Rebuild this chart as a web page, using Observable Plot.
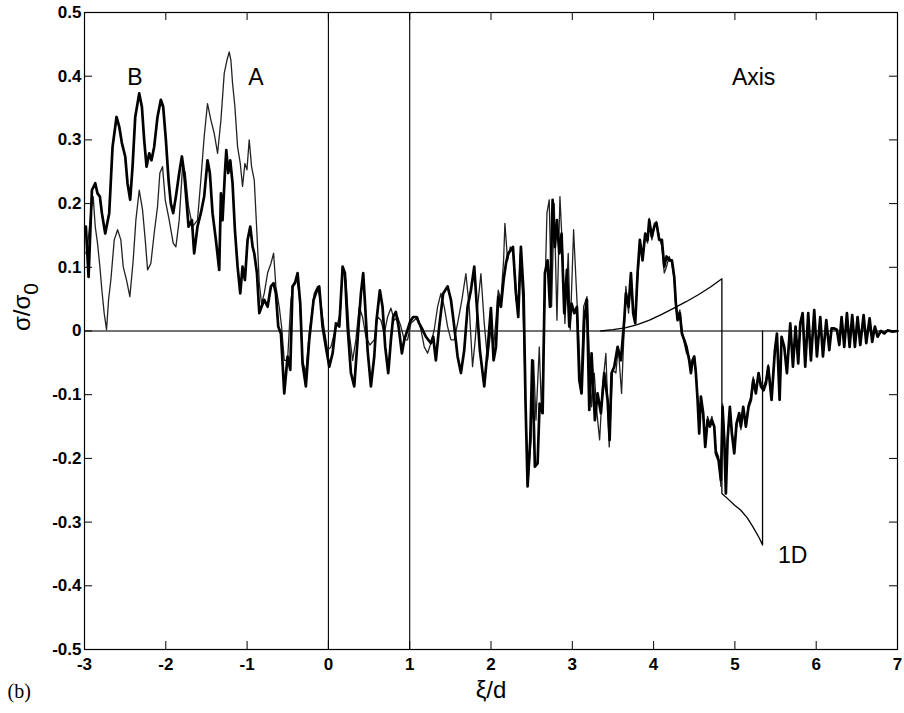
<!DOCTYPE html>
<html><head><meta charset="utf-8">
<script src="https://cdn.jsdelivr.net/npm/d3@7"></script>
<script src="https://cdn.jsdelivr.net/npm/@observablehq/plot@0.6"></script>
<style>body{margin:0;background:#fff}#chart{width:904px;height:713px}</style>
</head><body><div id="chart"></div>
<script>
// Thick series (B)
const thickX = [-2.983,-2.950,-2.909,-2.868,-2.840,-2.811,-2.786,-2.745,-2.696,-2.655,-2.606,-2.573,-2.540,-2.499,-2.471,-2.438,-2.409,-2.376,-2.327,-2.294,-2.266,-2.237,-2.204,-2.176,-2.143,-2.102,-2.061,-2.032,-1.999,-1.966,-1.938,-1.909,-1.876,-1.835,-1.802,-1.774,-1.753,-1.720,-1.679,-1.651,-1.610,-1.569,-1.528,-1.487,-1.458,-1.425,-1.384,-1.343,
-1.322,-1.302,-1.273,-1.256,-1.232,-1.207,-1.179,-1.150,-1.117,-1.084,-1.056,-1.027,-0.994,-0.961,-0.932,-0.912,-0.879,-0.850,-0.822,-0.789,-0.748,-0.707,-0.674,-0.646,-0.617,-0.584,-0.543,-0.502,-0.469,-0.441,-0.412,-0.379,-0.346,-0.318,-0.277,-0.236,-0.182,-0.141,-0.113,-0.072,-0.031,0.011,0.052,0.093,0.134,0.175,0.203,0.236,0.277,0.318,
0.400,0.428,0.453,0.482,0.523,0.564,0.592,0.633,0.666,0.699,0.736,0.769,0.797,0.830,0.863,0.904,0.933,0.974,1.006,1.043,1.084,1.117,1.158,1.199,1.261,1.289,1.322,1.363,1.412,1.466,1.507,1.548,1.589,1.630,1.671,1.712,1.753,1.794,1.826,1.863,1.917,1.958,1.999,
2.032,2.061,2.089,2.122,2.155,2.184,2.212,2.245,2.270,2.307,2.335,2.368,2.401,2.425,2.450,2.483,2.507,2.540,2.573,2.598,2.635,2.663,2.696,2.725,2.758,2.786,2.811,2.840,2.868,2.901,2.934,2.963,2.991,3.024,3.057,3.086,3.114,3.147,3.180,3.209,3.237,3.278,3.311,3.352,3.393,3.434,3.459,3.483,3.516,3.557,3.598,3.639,
3.659,3.692,3.721,3.749,3.774,3.803,3.831,3.864,3.897,3.926,3.946,3.979,4.008,4.036,4.069,4.102,4.131,4.159,4.192,4.225,4.254,4.274,4.295,4.323,4.348,4.377,4.405,4.438,4.459,4.479,4.500,4.520,4.541,4.561,4.582,4.610,4.635,4.664,4.692,4.717,4.746,4.766,4.799,4.828,4.848,4.869,4.889,4.910,4.938,4.963,4.992,5.020,5.053,5.074,5.102,5.135,5.168,5.197,5.225,5.258,5.291,5.320,
5.353,5.382,5.410,5.451,5.492,5.517,5.550,5.574,5.607,5.640,5.681,5.714,5.746,5.779,5.804,5.833,5.865,5.902,5.935,5.976,6.009,6.050,6.083,6.124,6.161,6.189,6.222,6.255,6.284,6.312,6.345,6.378,6.411,6.443,6.476,6.509,6.542,6.583,6.616,6.657,6.689,6.722,6.755,6.796,6.837,6.878,6.940,7.000];
const thickY = [0.164,0.085,0.221,0.232,0.216,0.211,0.185,0.153,0.185,0.289,0.336,0.321,0.295,0.274,0.232,0.206,0.258,0.336,0.373,0.352,0.300,0.258,0.279,0.268,0.289,0.336,0.363,0.352,0.300,0.237,0.200,0.185,0.211,0.248,0.274,0.248,0.216,0.164,0.174,0.122,0.164,0.185,0.211,0.268,0.248,0.185,0.143,0.096,
0.216,0.174,0.248,0.284,0.248,0.268,0.232,0.159,0.101,0.059,0.101,0.080,0.143,0.164,0.132,0.122,0.091,0.028,0.038,0.049,0.038,0.070,0.075,0.059,0.007,-0.004,-0.098,-0.040,-0.061,0.070,0.075,0.091,0.043,-0.051,-0.087,-0.014,0.049,0.064,0.070,0.007,-0.025,-0.056,-0.035,0.012,0.007,0.101,0.091,0.007,-0.066,-0.087,
0.059,0.091,0.038,-0.030,-0.087,-0.040,0.017,0.064,0.038,-0.025,-0.066,-0.014,0.022,0.030,0.007,-0.035,-0.014,0.002,0.015,0.022,0.022,0.012,0.002,-0.009,-0.019,-0.009,-0.046,0.007,0.059,0.070,0.049,0.007,-0.040,-0.066,-0.030,0.038,0.064,0.101,0.038,-0.030,-0.087,-0.030,0.036,
-0.046,-0.025,0.054,0.038,0.080,0.106,0.122,0.127,0.132,0.059,0.022,0.132,0.059,-0.114,-0.244,-0.171,-0.046,-0.213,-0.208,-0.114,-0.129,0.091,0.111,0.038,0.206,0.132,0.174,0.122,0.153,0.028,0.096,0.007,0.043,0.028,0.038,-0.077,-0.098,0.017,0.049,-0.124,-0.035,-0.140,-0.098,-0.129,-0.066,-0.108,-0.171,-0.066,-0.056,-0.025,-0.046,0.017,
0.059,0.038,0.091,0.028,0.012,0.091,0.143,0.111,0.153,0.143,0.174,0.148,0.164,0.169,0.143,0.143,0.101,0.117,0.111,0.111,0.085,0.043,0.017,0.028,-0.004,-0.014,-0.025,-0.046,-0.066,-0.046,-0.040,-0.066,-0.108,-0.161,-0.103,-0.129,-0.182,-0.140,-0.150,-0.140,-0.150,-0.192,-0.203,-0.234,-0.119,-0.171,-0.255,-0.171,-0.119,-0.161,-0.192,-0.145,-0.129,-0.150,-0.119,-0.150,-0.119,-0.108,-0.077,-0.098,-0.066,-0.087,
-0.093,-0.082,-0.056,-0.108,-0.030,-0.004,-0.108,-0.009,-0.025,-0.066,0.012,-0.056,0.007,-0.051,0.012,0.028,-0.056,0.028,-0.046,0.033,-0.040,0.022,-0.040,0.017,-0.030,0.004,0.004,0.002,-0.022,0.022,-0.025,0.028,-0.025,0.025,-0.025,0.022,-0.022,0.025,-0.019,0.020,-0.017,0.007,-0.009,0.000,-0.004,0.001,-0.001,0.000];

// Thin series (A)
const thinX = [-2.983,-2.963,-2.922,-2.893,-2.868,-2.840,-2.811,-2.786,-2.758,-2.729,-2.704,-2.676,-2.634,-2.593,-2.553,-2.524,-2.483,-2.442,-2.401,-2.368,-2.327,-2.286,-2.253,-2.224,-2.184,-2.143,-2.102,-2.073,-2.040,-2.007,-1.958,-1.909,-1.876,-1.835,-1.794,-1.761,-1.720,-1.671,-1.610,-1.569,-1.528,-1.487,-1.445,-1.404,-1.363,-1.322,
-1.281,-1.248,-1.220,-1.199,-1.179,-1.150,-1.117,-1.084,-1.056,-1.027,-1.002,-0.974,-0.945,-0.912,-0.879,-0.850,-0.822,-0.789,-0.748,-0.707,-0.674,-0.646,-0.605,-0.576,-0.543,-0.502,-0.461,-0.428,-0.387,-0.359,-0.318,-0.277,-0.236,-0.174,-0.133,-0.092,-0.051,-0.010,0.031,0.072,0.113,0.146,0.175,0.216,0.257,0.298,0.338,
0.379,0.420,0.461,0.510,0.564,0.605,0.646,0.687,0.728,0.769,0.810,0.851,0.892,0.933,0.974,1.015,1.056,1.097,1.138,1.179,1.220,1.261,1.302,1.343,1.384,1.425,1.466,1.507,1.548,1.589,1.642,1.691,1.732,1.773,1.806,1.835,1.876,1.917,1.958,1.999,
2.032,2.061,2.089,2.122,2.155,2.171,2.204,2.237,2.270,2.307,2.335,2.360,2.389,2.409,2.430,2.458,2.491,2.524,2.553,2.594,2.622,2.655,2.688,2.716,2.745,2.778,2.811,2.848,2.881,2.909,2.950,2.975,3.016,3.045,3.073,3.106,3.139,3.180,3.209,3.237,3.270,3.303,3.336,3.372,3.413,3.454,3.495,3.536,3.565,3.606,3.639,
3.659,3.692,3.721,3.749,3.774,3.803,3.831,3.864,3.897,3.926,3.946,3.979,4.008,4.036,4.069,4.102,4.131,4.159,4.192,4.225,4.254,4.274,4.295,4.323,4.348,4.377,4.405,4.438,4.459,4.479,4.500,4.520,4.541,4.561,4.582,4.610,4.635,4.664,4.692,4.717,4.746,4.766,4.799,4.828,4.848,4.869,4.889,4.910,4.938,4.963,4.992,5.020,5.053,5.074,5.102,5.135,5.168,5.197,5.225,5.258,5.291,5.320,
5.353,5.382,5.410,5.451,5.492,5.517,5.550,5.574,5.607,5.640,5.681,5.714,5.746,5.779,5.804,5.833,5.865,5.902,5.935,5.976,6.009,6.050,6.083,6.124,6.161,6.189,6.222,6.255,6.284,6.312,6.345,6.378,6.411,6.443,6.476,6.509,6.542,6.583,6.616,6.657,6.689,6.722,6.755,6.796,6.837,6.878,6.940,7.000];
const thinY = [0.122,0.132,0.185,0.211,0.164,0.138,0.101,0.064,0.028,0.002,0.049,0.080,0.143,0.159,0.143,0.101,0.080,0.054,0.111,0.174,0.221,0.190,0.143,0.096,0.106,0.153,0.195,0.248,0.258,0.206,0.174,0.138,0.132,0.174,0.258,0.248,0.195,0.164,0.174,0.237,0.305,0.357,0.331,0.310,0.279,0.331,
0.405,0.425,0.438,0.425,0.389,0.352,0.289,0.263,0.227,0.263,0.253,0.300,0.258,0.237,0.153,0.075,0.043,0.059,0.091,0.106,0.122,0.070,0.038,0.007,-0.046,-0.046,0.049,0.075,0.080,0.059,-0.046,-0.066,-0.004,0.059,0.070,0.043,0.002,-0.030,-0.025,-0.004,0.012,0.028,0.101,0.080,-0.004,-0.046,-0.014,
0.038,0.022,-0.009,-0.022,-0.014,0.022,0.017,-0.004,0.022,0.036,0.017,0.022,0.007,-0.014,-0.014,0.012,0.017,0.022,0.002,-0.025,-0.035,-0.019,0.002,0.038,0.059,0.038,0.007,-0.014,-0.014,0.012,0.049,0.090,0.038,-0.056,-0.014,0.038,0.090,0.012,-0.046,0.002,
-0.025,0.017,0.064,0.049,0.111,0.169,0.111,0.132,0.127,0.049,0.038,0.122,0.054,-0.035,-0.140,-0.234,-0.171,-0.046,-0.140,-0.025,-0.129,0.017,0.185,0.206,0.038,0.200,0.017,0.211,0.122,0.012,0.122,0.002,0.159,0.080,0.007,-0.098,0.038,0.054,-0.035,-0.119,-0.066,-0.129,-0.171,-0.087,-0.035,-0.182,-0.061,-0.066,-0.025,-0.098,0.007,
0.070,0.028,0.085,0.038,0.017,0.080,0.132,0.117,0.148,0.138,0.177,0.143,0.169,0.172,0.148,0.132,0.091,0.101,0.117,0.106,0.080,0.038,0.022,0.033,0.002,-0.019,-0.035,-0.040,-0.061,-0.051,-0.040,-0.061,-0.103,-0.155,-0.108,-0.134,-0.171,-0.134,-0.145,-0.134,-0.155,-0.187,-0.197,-0.244,-0.114,-0.161,-0.244,-0.166,-0.124,-0.155,-0.187,-0.150,-0.134,-0.155,-0.124,-0.145,-0.114,-0.103,-0.072,-0.093,-0.066,-0.082,
-0.087,-0.077,-0.053,-0.103,-0.030,-0.006,-0.103,-0.011,-0.025,-0.061,0.009,-0.053,0.004,-0.048,0.009,0.025,-0.053,0.025,-0.043,0.030,-0.038,0.020,-0.038,0.015,-0.027,0.003,0.003,0.001,-0.020,0.020,-0.022,0.025,-0.022,0.022,-0.022,0.020,-0.020,0.022,-0.018,0.018,-0.015,0.006,-0.008,0.000,-0.003,0.001,0.000,0.000];

// 1D prediction
const oneDX = [3.35,3.50,3.65,3.80,3.95,4.10,4.25,4.40,4.55,4.70,4.84,4.84,4.90,5.00,5.07,5.15,5.22,5.30,5.34,5.34];
const oneDY = [0,0.002,0.005,0.010,0.017,0.026,0.036,0.046,0.057,0.069,0.082,-0.255,-0.262,-0.274,-0.281,-0.293,-0.307,-0.325,-0.336,0];

// reference lines and ticks
const vLines = [0, 1];
const hLines = [0];
const xTicks = [-3,-2,-1,0,1,2,3,4,5,6,7];
const yTicks = [-0.5,-0.4,-0.3,-0.2,-0.1,0,0.1,0.2,0.3,0.4,0.5];

// annotations
const noteText = ["B", "A", "Axis", "1D"];
const noteX = [-2.38, -0.89, 5.23, 5.71];
const noteY = [0.398, 0.398, 0.398, -0.353];

const thick = thickX.map((x, i) => ({x, y: thickY[i]}));
const thin = thinX.map((x, i) => ({x, y: thinY[i]}));
const oneD = oneDX.map((x, i) => ({x, y: oneDY[i]}));
const notes = noteText.map((t, i) => ({t, x: noteX[i], y: noteY[i]}));

const fmtX = d => (d < 0 ? "-" : "") + Math.abs(d);
const fmtY = d => d === 0 ? "0" : (d < 0 ? "-" : "") + Math.abs(d).toFixed(1);

const W = 904, H = 713, ML = 84, MR = 7, MT = 12, MB = 64;
const innerW = W - ML - MR, innerH = H - MT - MB, TL = 8;

const chart = Plot.plot({
  width: W, height: H,
  marginLeft: ML, marginRight: MR, marginTop: MT, marginBottom: MB,
  x: {domain: [-3, 7]},
  y: {domain: [-0.5, 0.5]},
  style: {fontFamily: "'Liberation Sans', Arial, sans-serif", fontSize: "17px", background: "#fff", overflow: "visible"},
  marks: [
    Plot.ruleX(vLines, {stroke: "#000", strokeWidth: 1.1}),
    Plot.ruleY(hLines, {stroke: "#444", strokeWidth: 1.3}),
    Plot.line(oneD, {x: "x", y: "y", stroke: "#000", strokeWidth: 1.3}),
    Plot.line(thin, {x: "x", y: "y", stroke: "#222", strokeWidth: 1.3, strokeLinejoin: "round"}),
    Plot.line(thick, {x: "x", y: "y", stroke: "#000", strokeWidth: 2.7, strokeLinejoin: "round"}),
    Plot.frame({stroke: "#000", strokeWidth: 1.2}),
    Plot.ruleX(xTicks, {insetTop: innerH - TL, stroke: "#000"}),
    Plot.ruleX(xTicks, {insetBottom: innerH - TL, stroke: "#000"}),
    Plot.ruleY(yTicks, {insetRight: innerW - TL, stroke: "#000"}),
    Plot.ruleY(yTicks, {insetLeft: innerW - TL, stroke: "#000"}),
    Plot.axisX(xTicks, {tickSize: 0, tickPadding: 8, tickFormat: fmtX, label: null, fontWeight: "bold"}),
    Plot.axisY(yTicks, {tickSize: 0, tickPadding: 3, tickFormat: fmtY, label: null, fontWeight: "bold"}),
    Plot.text(notes, {x: "x", y: "y", text: "t", fontSize: 23, fill: "#000", textAnchor: "middle", lineAnchor: "middle"}),
    Plot.text(["ξ/d"], {text: d => d, frameAnchor: "bottom", dy: 41, fontSize: 24, lineAnchor: "middle"}),
    Plot.text(["σ/σ0"], {text: d => d, frameAnchor: "left", dx: -62, rotate: -90, fontSize: 24, lineAnchor: "middle", className: "ylab"}),
    Plot.text(["(b)"], {text: d => d, frameAnchor: "bottom-left", dx: -77, dy: 42, fontSize: 20, fontFamily: "'Liberation Serif', 'Times New Roman', serif", textAnchor: "start", lineAnchor: "middle"})
  ]
});
// render the "0" of σ/σ0 as a subscript
d3.select(chart).selectAll(".ylab text").each(function () {
  const t = d3.select(this);
  t.text("σ/σ");
  t.append("tspan").attr("dy", "0.35em").attr("font-size", 21).text("0");
});
document.getElementById("chart").append(chart);
</script>
</body></html>
